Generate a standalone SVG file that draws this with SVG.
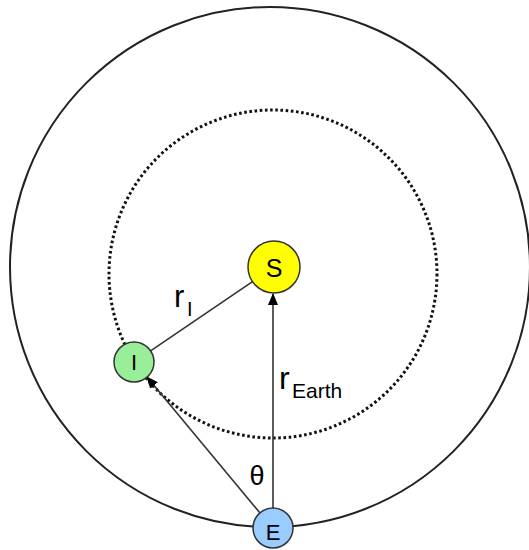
<svg xmlns="http://www.w3.org/2000/svg" width="529" height="550" viewBox="0 0 529 550">
<defs>
<marker id="ah" markerWidth="12" markerHeight="10" refX="11" refY="5" orient="auto" markerUnits="userSpaceOnUse">
<path d="M0,0 L12,5 L0,10 Z" fill="#000"/>
</marker>
<style>
.node{stroke:#333;stroke-width:1.5}
.lbl{font-family:"Liberation Sans",Arial,sans-serif;fill:#000;text-anchor:middle}
.conn{stroke:#333;stroke-width:1.6;fill:none}
.math{font-family:"Liberation Sans",Arial,sans-serif;fill:#000}
</style>
</defs>
<rect width="529" height="550" fill="#fff"/>
<circle cx="270" cy="267" r="260" fill="none" stroke="#222" stroke-width="2"/>
<circle cx="273" cy="274" r="164" fill="none" stroke="#111" stroke-width="3" stroke-dasharray="2.6 2.6"/>
<g id="connectors">
<line class="conn" x1="150.6" y1="350.8" x2="252.5" y2="281.6"/>
<line class="conn" x1="273" y1="508" x2="273" y2="294" marker-end="url(#ah)"/>
<line class="conn" x1="260" y1="513" x2="147" y2="377" marker-end="url(#ah)"/>
</g>
<g id="S"><circle class="node" cx="274" cy="267" r="26" fill="#ffff00"/><text class="lbl" x="274" y="277" font-size="25">S</text></g>
<g id="I"><circle class="node" cx="134" cy="362" r="20" fill="#99ee99"/><text class="lbl" x="134" y="370" font-size="22">I</text></g>
<g id="E"><circle class="node" cx="273" cy="528" r="20" fill="#99ccff"/><text class="lbl" x="273" y="540" font-size="22">E</text></g>
<text class="math" x="174" y="307" font-size="31">r</text>
<text class="math" x="187" y="316" font-size="20">I</text>
<text class="math" x="279" y="389" font-size="32">r</text>
<text class="math" x="292" y="398" font-size="21">Earth</text>
<text class="math" x="257" y="485" font-size="27" text-anchor="middle">θ</text>
</svg>
